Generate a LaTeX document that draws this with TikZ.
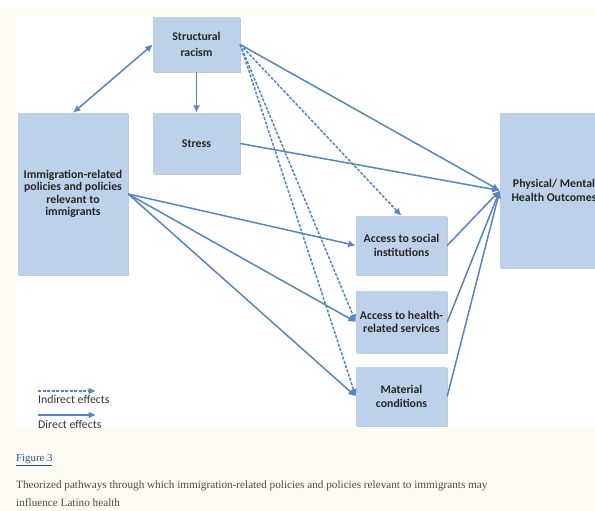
\documentclass[tikz,border=0pt]{standalone}
\usepackage{fontspec}
\setmainfont{Carlito}
\newfontfamily\capfont{Liberation Serif}
\usetikzlibrary{arrows.meta,shadows}
\definecolor{pagecream}{HTML}{FEFCF2}
\definecolor{boxblue}{HTML}{BED1EA}
\definecolor{linkblue}{HTML}{2C4E9E}
\definecolor{arrowblue}{HTML}{5585C2}
\definecolor{captiongray}{HTML}{4A4A4A}
\begin{document}
\begin{tikzpicture}[x=1pt,y=-1pt,
  factor/.style={fill=boxblue, draw=none, align=center, inner sep=2pt,
    font=\fontsize{11.8}{13.2}\selectfont\bfseries, text=black!85,
    drop shadow={shadow xshift=0.6pt, shadow yshift=-1.4pt, opacity=0.35, fill=black!60}},
  direct/.style={draw=arrowblue, line width=1.5pt, -{Latex[length=7.5pt,width=7pt]}},
  indirect/.style={direct, dash pattern=on 3pt off 1.5pt},
  legendtext/.style={anchor=west, inner sep=0pt, font=\fontsize{11.8}{13}\selectfont, text=black!80}]
  % page and figure area
  \fill[white] (0,0) rectangle (595,511);
  \fill[pagecream] (0,8) rectangle (595,511);
  \fill[white] (16,16) rectangle (595,428);
  \useasboundingbox (0,0) rectangle (595,511);
  \begin{scope}
  \clip (16,16) rectangle (595,428);
  % factors
  \node[factor, minimum width=87pt, minimum height=55pt, font=\fontsize{11.8}{16.5}\selectfont\bfseries] (sr) at (196.5,44.5) {Structural\\racism};
  \node[factor, minimum width=87pt, minimum height=61pt] (st) at (196.5,143.5) {Stress};
  \node[factor, minimum width=110pt, minimum height=162pt, font=\fontsize{11.8}{12.5}\selectfont\bfseries] (im) at (73,194) {Immigration-related\\policies and policies\\relevant to\\immigrants};
  \node[factor, minimum width=108pt, minimum height=155pt] (ph) at (554,190.5) {Physical/ Mental\\Health Outcomes};
  \node[factor, minimum width=91pt, minimum height=59pt] (as) at (401.5,245.5) {Access to social\\institutions};
  \node[factor, minimum width=91pt, minimum height=62pt] (ah) at (401.5,322) {Access to health-\\related services};
  \node[factor, minimum width=91pt, minimum height=59pt] (mc) at (401.5,396.5) {Material\\conditions};
  % pathways
  \draw[direct, {Latex[length=7.5pt,width=7pt]}-{Latex[length=7.5pt,width=7pt]}] (im.north) -- (sr.west);
  \draw[direct] (sr.south) -- (st.north);
  \draw[direct] (sr.east) -- (ph.west);
  \draw[indirect] (sr.east) -- (as.north);
  \draw[indirect] (sr.east) -- (ah.west);
  \draw[indirect] (sr.east) -- (mc.west);
  \draw[direct] (st.east) -- (ph.west);
  \draw[direct] (im.east) -- (as.west);
  \draw[direct] (im.east) -- (ah.west);
  \draw[direct] (im.east) -- (mc.west);
  \draw[direct] (as.east) -- (ph.west);
  \draw[direct] (ah.east) -- (ph.west);
  \draw[direct] (mc.east) -- (ph.west);
  % legend
  \coordinate (li0) at (38,391);
  \coordinate (li1) at (96,391);
  \coordinate (ld0) at (38,415);
  \coordinate (ld1) at (96,415);
  \draw[indirect] (li0) -- (li1);
  \draw[direct] (ld0) -- (ld1);
  \node[legendtext] (lit) at (38,399) {Indirect effects};
  \node[legendtext] (ldt) at (38,424) {Direct effects};
  \end{scope}
  % caption
  \node[anchor=west, inner sep=0pt, font=\capfont\fontsize{10.8}{13}\selectfont, text=linkblue] (fig) at (16,460) {\underline{Figure 3}};
  \node[anchor=north west, inner sep=0pt, align=left, font=\capfont\fontsize{11.2}{18}\selectfont, text=captiongray] (cap) at (16,481)
    {Theorized pathways through which immigration-related policies and policies relevant to immigrants may\\influence Latino health};
\end{tikzpicture}
\end{document}
